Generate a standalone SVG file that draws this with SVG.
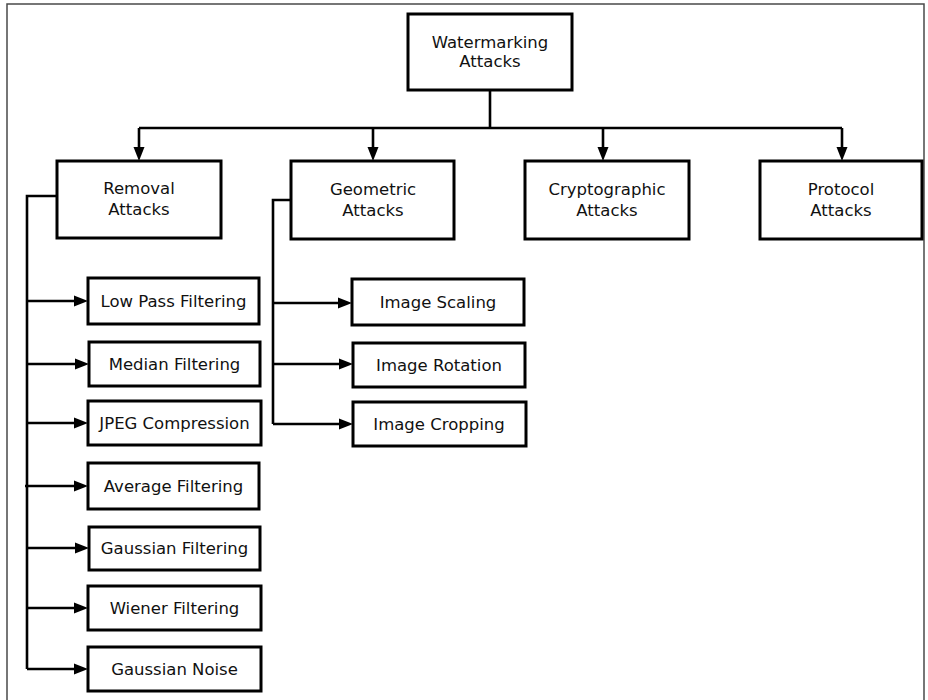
<svg xmlns="http://www.w3.org/2000/svg" width="928" height="700" viewBox="0 0 928 700">
  <defs>
    <style>
      .frame { fill: none; stroke: #4a4a4a; stroke-width: 1.5; }
      .box { fill: #ffffff; stroke: #000000; stroke-width: 3; }
      .lbl { font-family: "DejaVu Sans", "Liberation Sans", sans-serif; font-size: 16.5px; fill: #111111; text-anchor: middle; }
      .wire { fill: none; stroke: #000000; stroke-width: 2.6; }
      .arr { fill: none; stroke: #000000; stroke-width: 2.6; marker-end: url(#head); }
    </style>
    <!-- solid triangular head; tip lands 8px past the line end -->
    <marker id="head" markerUnits="userSpaceOnUse" markerWidth="14" markerHeight="12" refX="6" refY="6" orient="auto">
      <path d="M0,0.5 L14,6 L0,11.5 z" fill="#000000"/>
    </marker>
  </defs>

  <rect width="928" height="700" fill="#ffffff"/>
  <!-- page frame -->
  <path class="frame" d="M7,702 V4 H924 V702"/>

  <g id="connectors">
    <!-- root to top level -->
    <path class="wire" d="M490,90 V128"/>
    <path class="wire" d="M139,128 H842"/>
    <path class="arr" d="M139,128 V153"/>
    <path class="arr" d="M373,128 V153"/>
    <path class="arr" d="M603,128 V153"/>
    <path class="arr" d="M842,128 V153"/>

    <!-- removal attacks branch -->
    <path class="wire" d="M57,196 H27 V669"/>
    <path class="arr" d="M27,301 H80"/>
    <path class="arr" d="M27,364 H81"/>
    <path class="arr" d="M27,423 H80"/>
    <path class="arr" d="M25,486 H80"/>
    <path class="arr" d="M27,548 H81"/>
    <path class="arr" d="M27,608 H80"/>
    <path class="arr" d="M27,669 H80"/>

    <!-- geometric attacks branch -->
    <path class="wire" d="M291,200 H273 V424"/>
    <path class="arr" d="M273,303 H344"/>
    <path class="arr" d="M273,364 H345"/>
    <path class="arr" d="M273,424 H345"/>
  </g>

  <g id="watermarking-attacks">
    <rect class="box" x="408" y="14" width="164" height="76"/>
    <text class="lbl" x="490" y="48">Watermarking</text>
    <text class="lbl" x="490" y="67">Attacks</text>
  </g>

  <g id="removal-attacks">
    <rect class="box" x="57" y="161" width="164" height="77"/>
    <text class="lbl" x="139" y="194">Removal</text>
    <text class="lbl" x="139" y="215">Attacks</text>
  </g>
  <g id="geometric-attacks">
    <rect class="box" x="291" y="161" width="163" height="78"/>
    <text class="lbl" x="373" y="195">Geometric</text>
    <text class="lbl" x="373" y="216">Attacks</text>
  </g>
  <g id="cryptographic-attacks">
    <rect class="box" x="525" y="161" width="164" height="78"/>
    <text class="lbl" x="607" y="195">Cryptographic</text>
    <text class="lbl" x="607" y="216">Attacks</text>
  </g>
  <g id="protocol-attacks">
    <rect class="box" x="760" y="161" width="162" height="78"/>
    <text class="lbl" x="841" y="195">Protocol</text>
    <text class="lbl" x="841" y="216">Attacks</text>
  </g>

  <g id="low-pass-filtering">
    <rect class="box" x="88" y="278" width="171" height="46"/>
    <text class="lbl" x="173.5" y="307">Low Pass Filtering</text>
  </g>
  <g id="median-filtering">
    <rect class="box" x="89" y="342" width="171" height="44"/>
    <text class="lbl" x="174.5" y="370">Median Filtering</text>
  </g>
  <g id="jpeg-compression">
    <rect class="box" x="88" y="401" width="173" height="44"/>
    <text class="lbl" x="174.5" y="429">JPEG Compression</text>
  </g>
  <g id="average-filtering">
    <rect class="box" x="88" y="463" width="171" height="46"/>
    <text class="lbl" x="173.5" y="492">Average Filtering</text>
  </g>
  <g id="gaussian-filtering">
    <rect class="box" x="89" y="527" width="171" height="43"/>
    <text class="lbl" x="174.5" y="554">Gaussian Filtering</text>
  </g>
  <g id="wiener-filtering">
    <rect class="box" x="88" y="586" width="173" height="44"/>
    <text class="lbl" x="174.5" y="614">Wiener Filtering</text>
  </g>
  <g id="gaussian-noise">
    <rect class="box" x="88" y="647" width="173" height="44"/>
    <text class="lbl" x="174.5" y="675">Gaussian Noise</text>
  </g>

  <g id="image-scaling">
    <rect class="box" x="352" y="279" width="172" height="46"/>
    <text class="lbl" x="438" y="308">Image Scaling</text>
  </g>
  <g id="image-rotation">
    <rect class="box" x="353" y="343" width="172" height="44"/>
    <text class="lbl" x="439" y="371">Image Rotation</text>
  </g>
  <g id="image-cropping">
    <rect class="box" x="353" y="402" width="173" height="44"/>
    <text class="lbl" x="439" y="430">Image Cropping</text>
  </g>
</svg>
